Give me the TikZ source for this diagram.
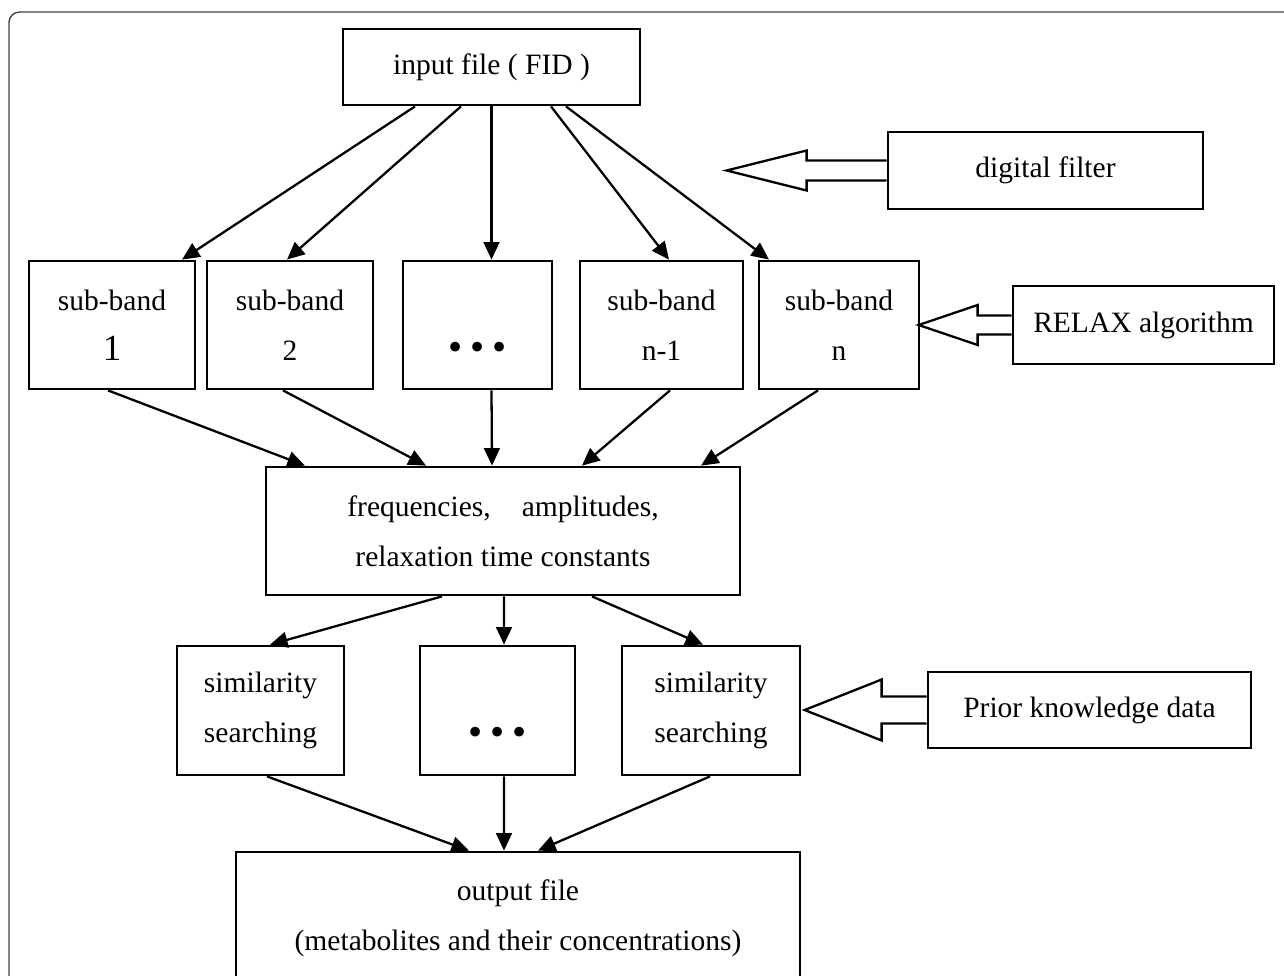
\documentclass[tikz,border=0pt]{standalone}
\usepackage{fontspec}
\setmainfont{Liberation Serif}
\usepackage{tikz}
\usetikzlibrary{arrows.meta,calc}
\newcommand{\bulletrow}{\raisebox{-4pt}{\fontsize{23pt}{28.5pt}\selectfont\textbullet\hspace{4.5pt}\textbullet\hspace{4.5pt}\textbullet}}

\begin{document}
\begin{tikzpicture}[x=0.02cm,y=-0.02cm,font=\fontsize{16.8pt}{28.5pt}\selectfont,>={Triangle[length=10pt,width=9pt]},
  box/.style={draw,line width=1.6pt,inner sep=2pt,align=center},
  conn/.style={->,line width=1.3pt},
  hollow/.style={draw,line width=1.3pt,line join=miter}]
\useasboundingbox (0,0) rectangle (1284,975);
\clip (0,0) rectangle (1284,975);
% frame
\draw[line width=0.8pt,black!75,rounded corners=6pt] (9,12) rectangle (1320,1020);
% input
\node[box,minimum width=5.94cm,minimum height=1.52cm] (input) at (491.5,67) {input file ( FID )};
% sub-bands
\node[box,minimum width=3.32cm,minimum height=2.56cm] (sub1) at (112,325) {sub-band\\{\fontsize{21pt}{28.5pt}\selectfont 1}};
\node[box,minimum width=3.32cm,minimum height=2.56cm] (sub2) at (290,325) {sub-band\\2};
\node[box,minimum width=2.98cm,minimum height=2.56cm] (subdots) at (477.5,325) {\phantom{x}\\\bulletrow};
\node[box,minimum width=3.26cm,minimum height=2.56cm] (subn1) at (661.5,325) {sub-band\\n-1};
\node[box,minimum width=3.2cm,minimum height=2.56cm] (subn) at (839,325) {sub-band\\n};
% parameters
\node[box,minimum width=9.48cm,minimum height=2.56cm] (freq) at (503,531) {frequencies,\hspace{0.8em} amplitudes,\\relaxation time constants};
% similarity searching
\node[box,minimum width=3.34cm,minimum height=2.58cm] (sim1) at (260.5,710.5) {similarity\\searching};
\node[box,minimum width=3.1cm,minimum height=2.58cm] (simdots) at (497.5,710.5) {\phantom{x}\\\bulletrow};
\node[box,minimum width=3.56cm,minimum height=2.58cm] (sim2) at (711,710.5) {similarity\\searching};
% output
\node[box,minimum width=11.28cm,minimum height=2.66cm] (out) at (518,918.5) {output file\\(metabolites and their concentrations)};
% side inputs
\node[box,minimum width=6.3cm,minimum height=1.54cm] (dfilter) at (1045.5,170.5) {digital filter};
\node[box,minimum width=5.22cm,minimum height=1.56cm] (relax) at (1143.5,325) {RELAX algorithm};
\node[box,minimum width=6.46cm,minimum height=1.52cm] (prior) at (1089.5,710) {Prior knowledge data};
\draw[hollow] (dfilter.west) ++(0,-10) -- ++(-80,0) -- ++(0,-10) -- ++(-80,20) -- ++(80,20) -- ++(0,-10) -- ++(80,0);
\draw[hollow] (relax.west) ++(0,-9.5) -- ++(-34,0) -- ++(0,-10.5) -- ++(-59,20) -- ++(59,20) -- ++(0,-10.5) -- ++(34,0);
\draw[hollow] (prior.west) ++(0,-13.5) -- ++(-45,0) -- ++(0,-17) -- ++(-77,30.5) -- ++(77,30.5) -- ++(0,-17) -- ++(45,0);
% input to sub-bands
\draw[conn] ($(input.south)+(-76.5,0)$) -- ($(sub1.north)+(70,0)$);
\draw[conn] ($(input.south)+(-30.5,0)$) -- ($(sub2.north)+(-3,0)$);
\draw[conn] (input.south) -- (input.south |- subdots.north);
\draw[conn] ($(input.south)+(59.5,0)$) -- ($(subn1.north)+(7.5,0)$);
\draw[conn] ($(input.south)+(74.5,0)$) -- ($(subn.north)+(-70,0)$);
% sub-bands to parameters
\draw[conn] ($(sub1.south)+(-4,0)$) -- ($(freq.north)+(-198,0)$);
\draw[conn] ($(sub2.south)+(-7,0)$) -- ($(freq.north)+(-77,0)$);
\draw[conn] ($(subdots.south)+(14,0)$) -- ($(freq.north)+(-11,0)$);
\draw[conn] ($(subn1.south)+(8.5,0)$) -- ($(freq.north)+(79,0)$);
\draw[conn] ($(subn.south)+(-21,0)$) -- ($(freq.north)+(198,0)$);
% parameters to similarity searching
\draw[conn] ($(freq.south)+(-61,0)$) -- ($(sim1.north)+(9.5,0)$);
\draw[conn] ($(freq.south)+(1,0)$) -- ($(simdots.north)+(6.5,0)$);
\draw[conn] ($(freq.south)+(89,0)$) -- ($(sim2.north)+(-8,0)$);
% similarity searching to output
\draw[conn] ($(sim1.south)+(6.5,0)$) -- ($(out.north)+(-49,0)$);
\draw[conn] ($(simdots.south)+(6.5,0)$) -- ($(out.north)+(-14,0)$);
\draw[conn] ($(sim2.south)+(-1,0)$) -- ($(out.north)+(20,0)$);
\end{tikzpicture}
\end{document}
